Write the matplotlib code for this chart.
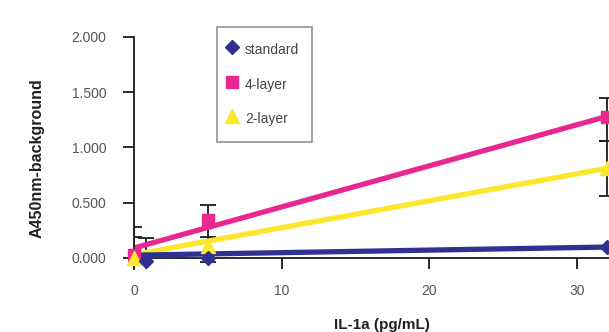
import numpy as np
import matplotlib
matplotlib.use("Agg")
import matplotlib.pyplot as plt

plt.rcParams['font.family'] = ['Liberation Sans', 'DejaVu Sans']

# IL-1a concentration (pg/mL)
conc_std = [0.8, 5, 32]
conc_4l = [0, 5, 32]
conc_2l = [0, 5, 32]

# absorbance readings, background subtracted
a450_std = [-0.03, 0.0, 0.10]
a450_4l = [0.03, 0.34, 1.28]
a450_2l = [0.0, 0.11, 0.81]

# error bars (below, above)
lo_std = [0.21, 0.04, 0.0]
hi_std = [0.21, 0.04, 0.0]
lo_4l = [0.25, 0.19, 0.22]
hi_4l = [0.25, 0.14, 0.17]
lo_2l = [0.19, 0.08, 0.25]
hi_2l = [0.19, 0.08, 0.25]

# linear trendlines (intercept, slope)
fit_std = (0.025, 0.0023)
fit_4l = (0.09, 0.0372)
fit_2l = (0.03, 0.0244)

navy = '#2E3192'
pink = '#E8288F'
yellow = '#FBE82C'

fig = plt.figure(figsize=(6.09, 3.32), dpi=100)
ax = fig.add_axes([134/609, 1 - 269/332, 1 - 134/609, (269 - 37)/332])

# error bars sit behind the trendlines and markers
for xs, ys, lo, hi in [(conc_4l, a450_4l, lo_4l, hi_4l),
                       (conc_2l, a450_2l, lo_2l, hi_2l),
                       (conc_std, a450_std, lo_std, hi_std)]:
    keep = [i for i in range(len(xs)) if lo[i] > 0 or hi[i] > 0]
    ax.errorbar([xs[i] for i in keep], [ys[i] for i in keep],
                yerr=[[lo[i] for i in keep], [hi[i] for i in keep]],
                fmt='none', ecolor='#1a1a1a', elinewidth=1.3, capsize=5.5,
                capthick=1.3, zorder=1)

xfit = np.array([0, 32])
ax.plot(xfit, fit_4l[0] + fit_4l[1]*xfit, color=pink, lw=3.8, zorder=2, solid_capstyle='butt')
ax.plot(xfit, fit_2l[0] + fit_2l[1]*xfit, color=yellow, lw=3.8, zorder=3, solid_capstyle='butt')
ax.plot(xfit, fit_std[0] + fit_std[1]*xfit, color=navy, lw=3.8, zorder=4, solid_capstyle='butt')

ax.plot(conc_4l, a450_4l, 's', color=pink, ms=8.5, label='4-layer', zorder=5, clip_on=False)
ax.plot(conc_2l, a450_2l, '^', color=yellow, ms=10, label='2-layer', zorder=5, clip_on=False)
ax.plot(conc_std, a450_std, 'D', color=navy, ms=7.5, label='standard', zorder=5, clip_on=False)

ax.set_xlim(0, 32.16)
ax.set_ylim(-0.1, 2.0)
ax.spines['top'].set_visible(False)
ax.spines['right'].set_visible(False)
ax.spines['bottom'].set_position(('data', 0))
for s in ['left', 'bottom']:
    ax.spines[s].set_linewidth(1.3)
    ax.spines[s].set_color('#1a1a1a')

ax.set_yticks([0, 0.5, 1.0, 1.5, 2.0])
ax.set_yticklabels(['0.000', '0.500', '1.000', '1.500', '2.000'])
ax.set_xticks([0, 10, 20, 30])
ax.tick_params(axis='both', direction='out', length=8, width=1.3, color='#1a1a1a',
               labelsize=10, labelcolor='#555555')
ax.tick_params(axis='y', pad=12)
ax.tick_params(axis='x', pad=11)

handles, labels = ax.get_legend_handles_labels()
order = [2, 0, 1]
leg = ax.legend([handles[i] for i in order], [labels[i] for i in order],
                loc='upper left', bbox_to_anchor=(217/609, 1 - 27/332),
                bbox_transform=fig.transFigure, fancybox=False, frameon=True,
                fontsize=10, labelspacing=1.1, handleheight=1.75, handletextpad=0.85,
                handlelength=0.2, borderpad=0.95, borderaxespad=0)
leg.get_frame().set_edgecolor('#777777')
leg.get_frame().set_linewidth(1.2)
for t in leg.get_texts():
    t.set_color('#444444')

fig.text(37/609, 1 - 158/332, 'A450nm-background', rotation=90, ha='center', va='center',
         fontsize=11.5, fontweight='bold', color='#222222')
fig.text(382/609, 1 - 325/332, 'IL-1a (pg/mL)', ha='center', va='center',
         fontsize=11, fontweight='bold', color='#222222')

fig.savefig('out.png', dpi=100)
